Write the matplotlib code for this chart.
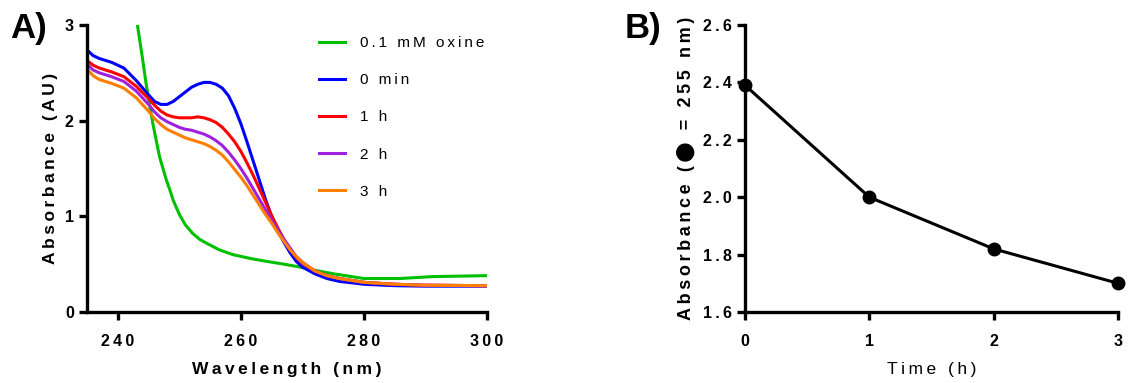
import numpy as np
import matplotlib.pyplot as plt

plt.rcParams['font.family'] = ['Liberation Sans', 'DejaVu Sans']

# Panel A: UV spectra (wavelength in nm, absorbance in AU)
wl = [235, 236, 237, 239, 241, 243, 245, 246, 247, 248, 249, 250, 251, 252, 253, 254, 255,
      256, 257, 258, 259, 260, 261, 262, 263, 264, 265, 266, 267, 268, 269, 270, 272,
      274, 276, 280, 285, 290, 300]
abs_0min = [2.74, 2.68, 2.65, 2.61, 2.55, 2.42, 2.27, 2.20, 2.17, 2.17, 2.20, 2.25, 2.30, 2.35,
            2.38, 2.40, 2.40, 2.38, 2.34, 2.26, 2.13, 1.97, 1.78, 1.58, 1.38, 1.18, 1.00,
            0.85, 0.73, 0.62, 0.53, 0.47, 0.40, 0.35, 0.32, 0.29, 0.275, 0.27, 0.27]
abs_1h = [2.63, 2.58, 2.55, 2.51, 2.46, 2.36, 2.23, 2.16, 2.10, 2.06, 2.04, 2.03, 2.03, 2.03,
          2.04, 2.03, 2.01, 1.98, 1.93, 1.86, 1.78, 1.68, 1.56, 1.43, 1.29, 1.15, 1.01,
          0.88, 0.76, 0.66, 0.57, 0.51, 0.43, 0.38, 0.35, 0.31, 0.29, 0.28, 0.275]
abs_2h = [2.59, 2.53, 2.50, 2.46, 2.41, 2.31, 2.17, 2.09, 2.03, 1.99, 1.96, 1.93, 1.91, 1.90,
          1.88, 1.86, 1.83, 1.79, 1.74, 1.67, 1.59, 1.50, 1.40, 1.29, 1.18, 1.07, 0.96,
          0.86, 0.76, 0.67, 0.58, 0.52, 0.43, 0.38, 0.35, 0.31, 0.29, 0.28, 0.275]
abs_3h = [2.54, 2.47, 2.43, 2.39, 2.34, 2.24, 2.10, 2.02, 1.96, 1.91, 1.88, 1.85, 1.82, 1.80,
          1.78, 1.76, 1.73, 1.69, 1.64, 1.57, 1.49, 1.41, 1.32, 1.22, 1.12, 1.02, 0.93,
          0.83, 0.74, 0.65, 0.58, 0.52, 0.43, 0.38, 0.35, 0.31, 0.29, 0.28, 0.275]

wl_oxine = [243.2, 244.0, 244.6, 245.2, 245.7, 246.3, 246.8, 247.4, 247.9, 248.5, 249.0,
            249.6, 250.1, 251.0, 252.2, 253.3, 254.4, 256.5, 258.7, 261.5, 264.1, 267.0,
            269.6, 272.5, 275.0, 280.0, 285.8, 291.2, 300.0]
abs_oxine = [3.00, 2.66, 2.39, 2.16, 1.97, 1.78, 1.62, 1.49, 1.38, 1.27, 1.17, 1.08, 1.01,
             0.91, 0.82, 0.76, 0.72, 0.65, 0.60, 0.56, 0.53, 0.50, 0.47, 0.43, 0.40, 0.35,
             0.35, 0.37, 0.38]

series_names = ['0.1 mM oxine', '0 min', '1 h', '2 h', '3 h']
series_colors = ['#00c000', '#0000ff', '#ff0000', '#a020e0', '#ff8000']

# Panel B: absorbance at 255 nm over time
time_h = [0, 1, 2, 3]
abs_255 = [2.39, 2.00, 1.82, 1.70]


def spaced(s):
    # Prism-style tracked lettering
    return '\u2009'.join(s)


fig = plt.figure(figsize=(11.28, 3.83), dpi=100)
ax1 = fig.add_axes([0.0771, 0.1854, 0.3546, 0.7493])
ax2 = fig.add_axes([0.6605, 0.1854, 0.3306, 0.7493])

for ax in (ax1, ax2):
    for side in ('top', 'right'):
        ax.spines[side].set_visible(False)
    for side in ('left', 'bottom'):
        ax.spines[side].set_linewidth(2.4)
    ax.tick_params(width=2.4, length=6, labelsize=11.5)
    ax.tick_params(axis='x', pad=10)

ys = [abs_oxine, abs_0min, abs_1h, abs_2h, abs_3h]
xs = [wl_oxine, wl, wl, wl, wl]
for x, y, name, c in zip(xs, ys, series_names, series_colors):
    ax1.plot(x, y, color=c, lw=2.2, label=spaced(name))
ax1.set_xlim(235, 300)
ax1.set_ylim(0, 3)
ax1.set_xticks([240, 260, 280, 300])
ax1.set_yticks([0, 1, 2, 3])
ax1.set_xticklabels([spaced(str(v)) for v in [240, 260, 280, 300]], fontweight='bold')
ax1.set_yticklabels(['0', '1', '2', '3'], fontweight='bold')
ax1.set_xlabel(spaced('Wavelength (nm)'), fontsize=12.5, fontweight='bold', labelpad=9)
ax1.set_ylabel(spaced('Absorbance (AU)'), fontsize=12.5, fontweight='bold', labelpad=5)
ax1.legend(loc='upper left', bbox_to_anchor=(0.545, 1.01), frameon=False, fontsize=11,
           handlelength=1.7, handletextpad=1.0, labelspacing=1.52)

ax2.plot(time_h, abs_255, color='black', lw=2.2, marker='o', markersize=9, clip_on=False)
ax2.set_xlim(0, 3)
ax2.set_ylim(1.6, 2.6)
ax2.set_xticks(time_h)
ax2.set_xticklabels([str(v) for v in time_h], fontweight='bold')
yt = [1.6, 1.8, 2.0, 2.2, 2.4, 2.6]
ax2.set_yticks(yt)
ax2.set_yticklabels([spaced('%.1f' % v) for v in yt], fontweight='bold')
ax2.set_xlabel(spaced('Time (h)'), fontsize=12.5, labelpad=9)
ax2.set_ylabel(spaced('Absorbance (\u2b24 = 255 nm)'), fontsize=13, fontweight='bold',
               labelpad=6)

fig.text(0.009, 0.968, 'A)', fontsize=25, fontweight='bold', va='top')
fig.text(0.554, 0.968, 'B)', fontsize=25, fontweight='bold', va='top')

fig.savefig('out.png', dpi=100)
